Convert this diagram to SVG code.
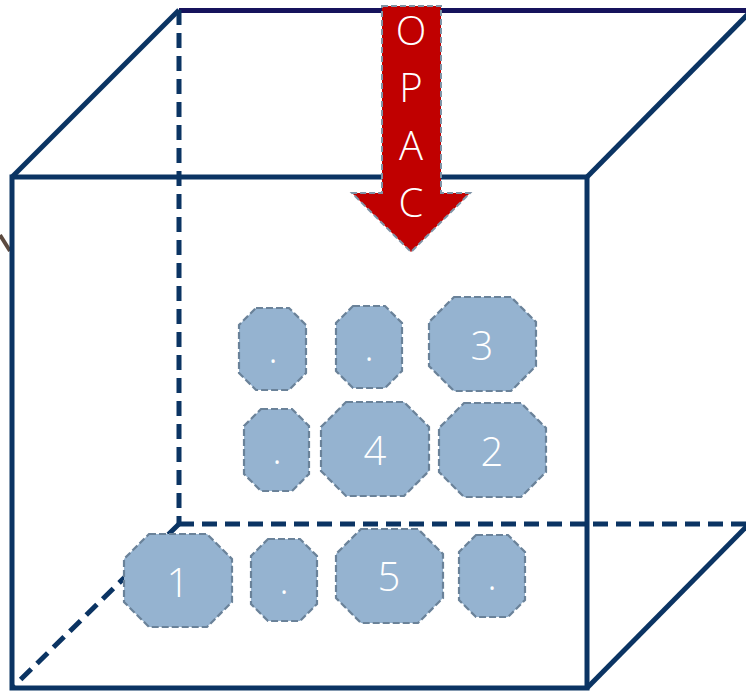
<svg xmlns="http://www.w3.org/2000/svg" width="746" height="693" viewBox="0 0 746 693">
<style>
.edge{fill:none;stroke:#0b3463;stroke-width:5;stroke-linecap:butt}
.dash{stroke-dasharray:15 8}
.oct{fill:#95b3d0;stroke:#6a8299;stroke-width:2.2;stroke-dasharray:7 3}
.lbl{font-family:"Open Sans","Noto Sans","Liberation Sans",sans-serif;font-size:40px;font-weight:300;fill:#ffffff;text-anchor:middle}
</style>
<rect width="746" height="693" fill="#ffffff"/>
<g id="connectors">
<line x1="0" y1="235" x2="10" y2="251" stroke="#5c4a40" stroke-width="4"/>
<line x1="179" y1="10.5" x2="746" y2="10.5" stroke="#16135c" stroke-width="5"/>
<line class="edge dash" x1="179" y1="10" x2="179" y2="524"/>
<line class="edge dash" x1="179" y1="524" x2="746" y2="524"/>
<line class="edge dash" x1="179" y1="524" x2="12" y2="688"/>
<line class="edge" x1="12" y1="177" x2="179" y2="10"/>
<line class="edge" x1="587" y1="177" x2="752" y2="10"/>
<line class="edge" x1="587" y1="688" x2="750" y2="523"/>
<rect class="edge" x="12" y="177" width="575" height="511"/>
</g>
<g id="arrow-opac">
<polygon points="382,6 441,6 441,193 470,193 411,252 352,193 382,193" fill="#c00000" stroke="#7f93a6" stroke-width="2" stroke-dasharray="6 3"/>
<text class="lbl" x="411" y="45">O</text>
<text class="lbl" x="411" y="102">P</text>
<text class="lbl" x="411" y="160">A</text>
<text class="lbl" x="411" y="217">C</text>
</g>
<g id="node-a"><polygon class="oct" points="256,308 289,308 306,325 306,373 289,390 256,390 239,373 239,325"/><text class="lbl" x="273" y="363">.</text></g>
<g id="node-b"><polygon class="oct" points="353,306 385,306 402,323 402,371 385,388 353,388 336,371 336,323"/><text class="lbl" x="369" y="361">.</text></g>
<g id="node-3"><polygon class="oct" points="454,297 511,297 536,322 536,366 511,391 454,391 429,366 429,322"/><text class="lbl" x="482" y="360">3</text></g>
<g id="node-c"><polygon class="oct" points="261,409 292,409 309,426 309,474 292,491 261,491 244,474 244,426"/><text class="lbl" x="277" y="464">.</text></g>
<g id="node-4"><polygon class="oct" points="346,402 404,402 429,427 429,471 404,496 346,496 321,471 321,427"/><text class="lbl" x="375" y="465">4</text></g>
<g id="node-2"><polygon class="oct" points="464,403 521,403 546,428 546,472 521,497 464,497 439,472 439,428"/><text class="lbl" x="492" y="466">2</text></g>
<g id="node-1"><polygon class="oct" points="149,534 207,534 232,559 232,602 207,627 149,627 124,602 124,559"/><text class="lbl" x="178" y="597">1</text></g>
<g id="node-d"><polygon class="oct" points="268,539 300,539 317,556 317,604 300,621 268,621 251,604 251,556"/><text class="lbl" x="284" y="594">.</text></g>
<g id="node-5"><polygon class="oct" points="361,529 418,529 443,554 443,598 418,623 361,623 336,598 336,554"/><text class="lbl" x="389" y="591">5</text></g>
<g id="node-e"><polygon class="oct" points="476,535 508,535 525,552 525,600 508,617 476,617 459,600 459,552"/><text class="lbl" x="492" y="590">.</text></g>
</svg>
